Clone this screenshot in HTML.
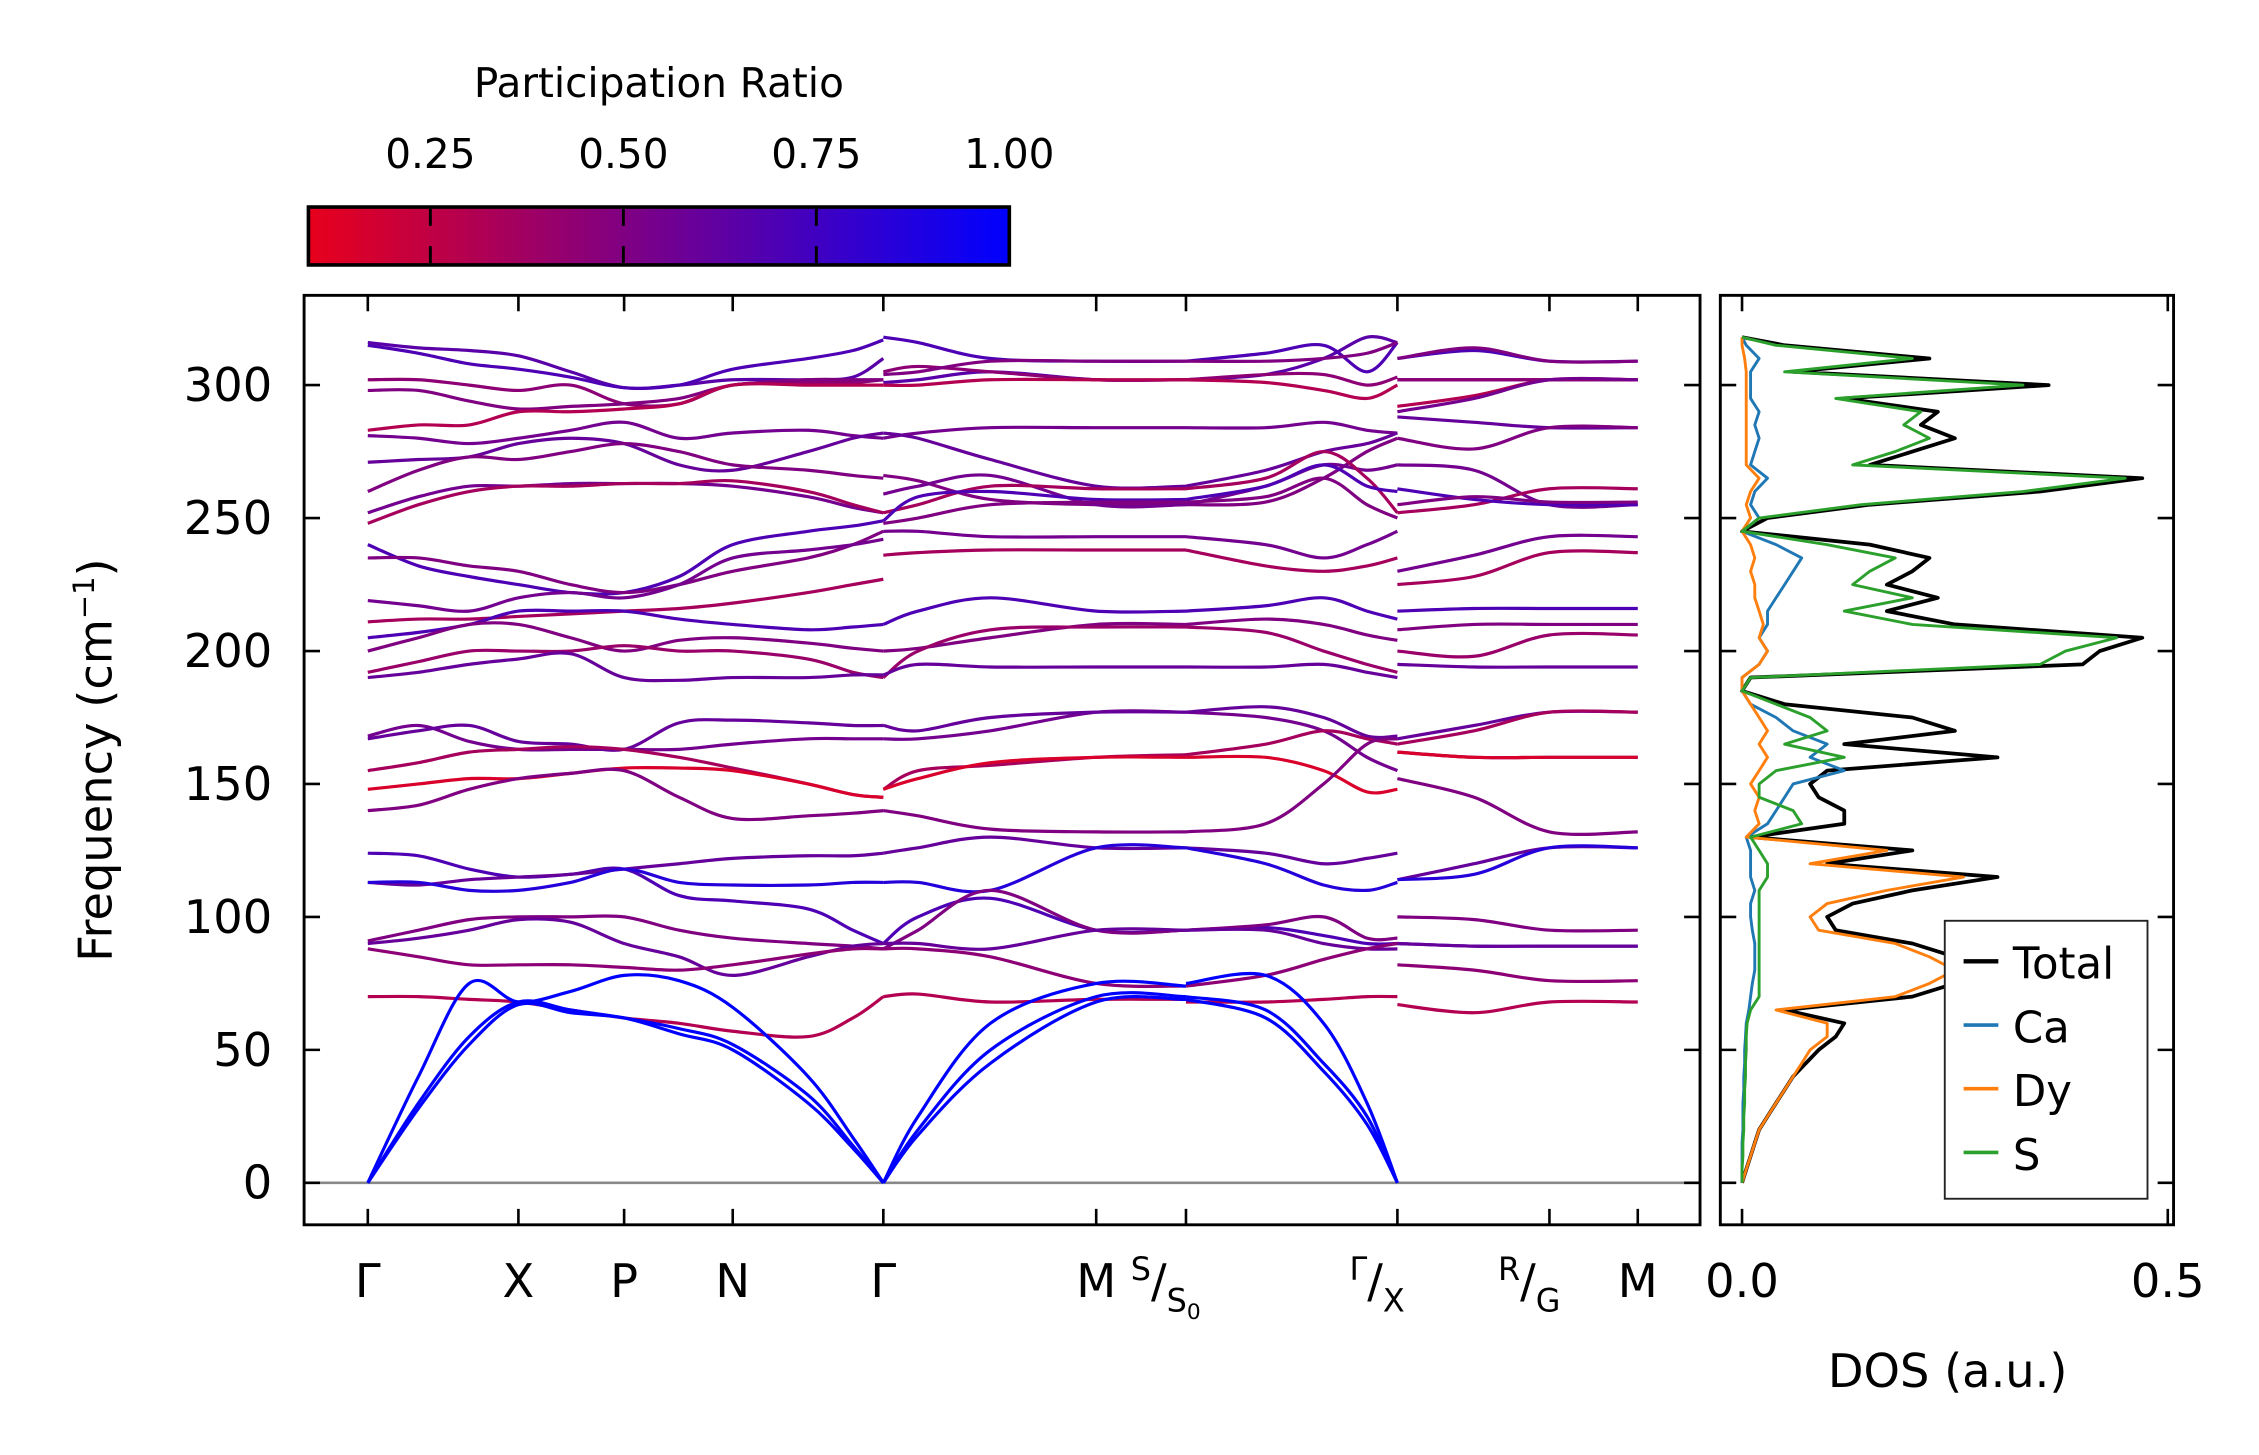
<!DOCTYPE html>
<html><head><meta charset="utf-8"><style>
html,body{margin:0;padding:0;background:#fff;}
svg{display:block;font-family:"DejaVu Sans","Liberation Sans",sans-serif;}
</style></head><body>
<svg id="fig" width="2259" height="1455" viewBox="0 0 1560 1005" preserveAspectRatio="none" xmlns="http://www.w3.org/2000/svg">
<defs>
<linearGradient id="cbgrad" x1="0" x2="1" y1="0" y2="0">
<stop offset="0" stop-color="rgb(232,0,28)"/><stop offset="1" stop-color="rgb(0,0,255)"/>
</linearGradient>
<clipPath id="mainclip"><rect x="210" y="204" width="964" height="642"/></clipPath>
<clipPath id="dosclip"><rect x="1188" y="204" width="313" height="642"/></clipPath>
</defs>
<g>
<text x="455" y="67" font-size="28" text-anchor="middle">Participation Ratio</text>
<rect x="213" y="143" width="484" height="40" fill="url(#cbgrad)" stroke="#000" stroke-width="2.5"/>
<g id="cbticks"></g>
</g>
<g id="main">
<line x1="210" y1="817" x2="1174" y2="817" stroke="#888" stroke-width="1.8"/>
<g id="bands" clip-path="url(#mainclip)"></g>
<g id="mainticks"></g>
<rect x="210" y="204" width="964" height="642" fill="none" stroke="#000" stroke-width="2"/>
<text transform="translate(77,525) rotate(-90)" font-size="32" text-anchor="middle">Frequency (cm<tspan dy="-12" font-size="20">−1</tspan><tspan dy="12">)</tspan></text>
</g>
<g id="dos">
<g id="dosLines" clip-path="url(#dosclip)"></g>
<g id="dosticks"></g>
<rect x="1188" y="204" width="313" height="642" fill="none" stroke="#000" stroke-width="2"/>
<text x="1345" y="958" font-size="32" text-anchor="middle">DOS (a.u.)</text>
<g>
<rect x="1343" y="636" width="140" height="192" fill="#fff" stroke="#222" stroke-width="1.3"/>
<line x1="1356" y1="664" x2="1380" y2="664" stroke="#000" stroke-width="3"/>
<text x="1390" y="676" font-size="30">Total</text>
<line x1="1356" y1="708" x2="1380" y2="708" stroke="#1f77b4" stroke-width="2.5"/>
<text x="1390" y="720" font-size="30">Ca</text>
<line x1="1356" y1="752" x2="1380" y2="752" stroke="#ff7f0e" stroke-width="2.5"/>
<text x="1390" y="764" font-size="30">Dy</text>
<line x1="1356" y1="796" x2="1380" y2="796" stroke="#2ca02c" stroke-width="2.5"/>
<text x="1390" y="808" font-size="30">S</text>
</g>
</g>
</svg>
<script>
// ---- data ----
const kTicks = [0, 1.04, 1.77, 2.52, 3.56, 5.03, 5.65, 7.11, 8.16, 8.77];
const kA = [0, 0.35, 0.7, 1.04, 1.4, 1.77, 2.15, 2.52, 3.04, 3.35, 3.56];
const kB = [3.56, 3.8, 4.3, 5.03, 5.65];
const kC = [5.65, 6.2, 6.6, 6.9, 7.11];
const kD = [7.11, 7.64, 8.16, 8.77];
const yTicks = [0, 50, 100, 150, 200, 250, 300];
const cbTicks = [0.25, 0.5, 0.75, 1.0];
const cbTickLabels = ["0.25", "0.50", "0.75", "1.00"];
const dosTicks = [0.0, 0.5];
const dosTickLabels = ["0.0", "0.5"];

const bandsA = [
[0,40,75,68,72,78,76,66,40,17,0],
[0,30,55,68,65,62,58,52,33,14,0],
[0,28,52,67,64,62,56,50,30,13,0],
[70,70,69,68,65,62,60,57,55,62,70],
[88,85,82,82,82,81,80,82,86,88,88],
[90,92,95,99,98,90,85,78,85,89,90],
[91,95,99,100,100,100,95,92,90,89,88],
[113,113,110,110,113,118,113,112,112,113,113],
[113,112,114,115,116,118,120,122,123,123,124],
[124,123,118,115,116,118,108,106,103,95,90],
[140,142,148,152,154,155,145,137,138,139,140],
[148,150,152,152,154,156,156,155,150,146,145],
[155,158,162,163,164,163,160,156,150,146,145],
[167,170,172,166,165,163,173,174,173,172,172],
[168,172,166,163,163,163,163,165,167,167,167],
[190,192,195,197,199,190,189,190,190,191,191],
[192,196,200,200,200,202,200,200,197,192,190],
[200,205,210,210,205,200,204,205,203,201,200],
[205,207,210,215,215,215,212,210,208,209,210],
[211,212,212,213,214,215,216,218,222,225,227],
[219,217,215,220,222,220,225,235,238,240,242],
[235,235,232,230,225,222,225,230,235,240,245],
[240,232,228,225,222,222,228,240,245,247,249],
[248,255,260,262,262,263,263,264,260,255,252],
[252,258,262,262,263,263,263,262,258,254,252],
[260,268,273,272,275,278,275,270,268,266,265],
[271,272,273,278,280,278,270,268,275,280,282],
[281,280,278,280,283,286,280,282,283,281,280],
[283,285,285,290,290,291,293,300,300,300,300],
[298,298,294,291,292,293,295,300,302,302,302],
[302,302,300,298,300,293,293,300,301,301,302],
[315,312,308,306,303,299,300,306,310,313,317],
[316,314,313,311,305,299,300,302,302,303,310]
];
const bandsB = [
[0,20,50,70,70],[0,18,45,68,69],[0,25,60,75,74],
[70,71,68,69,69],[88,88,85,75,74],[90,90,88,95,95],[88,95,110,95,95],
[113,113,110,126,126],[124,126,130,126,126],[90,100,107,95,95],
[140,138,133,132,132],[148,152,158,160,160],[148,155,157,160,161],
[172,170,175,177,177],[167,167,170,177,177],
[191,195,194,194,194],[190,200,208,209,209],[200,201,205,210,210],[210,215,220,215,215],
[236,237,238,238,238],[245,245,243,243,243],[248,250,255,256,256],[249,258,260,257,257],
[252,255,262,261,261],[259,262,266,255,255],[266,264,257,255,255],[282,280,272,262,262],
[280,282,284,284,284],[300,300,302,302,302],[304,305,309,309,309],[305,307,305,302,302],
[318,316,310,309,309],[301,302,305,302,302]
];
const bandsC = [
[70,65,45,25,0],[69,62,42,22,0],[75,78,60,30,0],
[68,68,69,70,70],[74,78,84,88,90],[95,95,90,88,88],[95,97,100,92,92],
[126,120,112,110,113],[126,124,120,122,124],[95,96,93,90,90],
[132,135,150,165,167],[160,160,155,147,148],[161,165,170,167,165],
[177,179,175,168,168],[177,175,170,160,155],
[194,194,195,192,190],[209,207,200,195,192],[210,212,210,206,204],[215,217,220,215,212],
[238,232,230,232,235],[243,240,235,240,245],[256,258,265,255,250],[257,262,270,262,260],
[261,265,275,265,252],[255,262,270,268,270],[255,256,265,275,280],[262,268,275,278,282],
[284,284,286,283,282],[302,301,298,295,300],[309,309,310,312,316],[302,304,304,300,303],
[309,312,315,305,316],[302,304,310,318,316]
];
const bandsD = [
null,null,null,
[67,64,68,68],[82,80,76,76],[90,89,89,89],[100,99,95,95],
[114,116,126,126],[114,120,126,126],[90,89,89,89],
[152,145,132,132],[162,160,160,160],[165,170,177,177],
[167,172,177,177],[162,160,160,160],
[195,194,194,194],[200,198,206,206],[208,210,210,210],[215,216,216,216],
[225,228,237,237],[230,236,243,243],[255,258,256,256],[261,257,255,255],
[252,255,261,261],[270,268,255,255],[280,276,284,284],[288,286,284,284],
[290,295,302,302],[292,296,302,302],[310,314,309,309],[302,302,302,302],
[310,313,309,309],[302,302,302,302]
];
const bandPR = [1.0,1.0,1.0,0.3,0.45,0.6,0.5,0.85,0.6,0.7,0.5,0.15,0.35,0.6,0.55,
0.6,0.4,0.5,0.7,0.35,0.55,0.5,0.7,0.35,0.55,0.5,0.6,0.55,0.3,0.5,0.45,0.7,0.65];

const dosFreq = [0,5,10,15,20,25,30,35,40,45,50,55,60,65,70,75,80,85,90,95,100,105,110,115,120,125,130,135,140,145,150,155,160,165,170,175,180,185,190,195,200,205,210,215,220,225,230,235,240,245,250,255,260,265,270,275,280,285,290,295,300,305,310,315,318];
const dosTotal = [0,.005,.01,.015,.02,.03,.04,.05,.06,.075,.09,.11,.12,.05,.2,.25,.27,.25,.2,.11,.1,.13,.2,.3,.1,.2,.01,.12,.12,.09,.08,.1,.3,.12,.25,.2,.05,0,.01,.4,.42,.47,.25,.17,.23,.17,.2,.22,.15,0,.03,.15,.35,.47,.15,.2,.25,.21,.23,.12,.36,.06,.22,.05,0];
const dosCa = [0,0,0,0,.001,.001,.001,.002,.002,.003,.003,.004,.005,.008,.01,.012,.015,.015,.015,.012,.01,.01,.015,.01,.01,.01,.005,.03,.04,.05,.06,.12,.08,.1,.06,.04,.01,0,0,.02,.03,.02,.03,.03,.04,.05,.06,.07,.04,0,.02,.01,.015,.03,.01,.015,.02,.015,.02,.01,.01,.01,.02,.005,0];
const dosDy = [0,.005,.01,.015,.02,.03,.04,.05,.06,.07,.08,.1,.1,.04,.18,.22,.25,.22,.18,.09,.08,.1,.17,.26,.08,.17,.005,.02,.015,.02,.01,.02,.03,.02,.03,.02,.01,0,0,.02,.03,.02,.025,.02,.015,.015,.01,.015,.01,0,.01,.005,.01,.02,.005,.005,.005,.005,.005,.005,.005,.005,.003,0,0];
const dosS = [0,0,.001,.001,.002,.002,.003,.003,.004,.004,.005,.005,.006,.01,.02,.02,.02,.02,.02,.02,.02,.02,.02,.03,.03,.02,.01,.07,.06,.02,.02,.04,.12,.05,.1,.08,.04,0,.01,.35,.38,.44,.2,.12,.2,.13,.15,.18,.1,0,.02,.14,.33,.45,.13,.18,.22,.19,.21,.11,.33,.05,.2,.04,0];

// ---- scales ----
const NS = "http://www.w3.org/2000/svg";
function xK(k){ return 210 + (k + 0.44) / 9.64 * 964; }
function yF(f){ return 817 - f * (551 / 300); }
function xDos(v){ return 1203 + v * 588; }
function xCb(v){ return 213 + (v - 0.092) / 0.908 * 484; }
function prColor(p){
  const t = Math.max(0, Math.min(1, (p - 0.092) / 0.908));
  return `rgb(${Math.round(232*(1-t))},0,${Math.round(28 + 227*t)})`;
}
function mk(tag, attrs, parent){
  const e = document.createElementNS(NS, tag);
  for (const a in attrs) e.setAttribute(a, attrs[a]);
  parent.appendChild(e); return e;
}
function smoothPath(ks, vs){
  const p = ks.map((k,i)=>[xK(k), yF(vs[i])]);
  let d = `M${p[0][0].toFixed(1)},${p[0][1].toFixed(1)}`;
  for (let i=0;i<p.length-1;i++){
    const p0 = p[Math.max(0,i-1)], p1 = p[i], p2 = p[i+1], p3 = p[Math.min(p.length-1,i+2)];
    const c1 = [p1[0]+(p2[0]-p0[0])/6, p1[1]+(p2[1]-p0[1])/6];
    const c2 = [p2[0]-(p3[0]-p1[0])/6, p2[1]-(p3[1]-p1[1])/6];
    d += `C${c1[0].toFixed(1)},${c1[1].toFixed(1)} ${c2[0].toFixed(1)},${c2[1].toFixed(1)} ${p2[0].toFixed(1)},${p2[1].toFixed(1)}`;
  }
  return d;
}

// ---- bands ----
const gB = document.getElementById('bands');
const segs = [[kA, bandsA], [kB, bandsB], [kC, bandsC], [kD, bandsD]];
for (let b = bandsA.length - 1; b >= 0; b--){
  segs.forEach(([ks, arr]) => {
    if (!arr[b]) return;
    const el = mk('path', {d: smoothPath(ks, arr[b]), fill:'none', stroke: prColor(bandPR[b]), 'stroke-width': 2.2}, gB);
    
    
  });
}

// ---- main ticks ----
const gT = document.getElementById('mainticks');
kTicks.forEach(k => {
  const x = xK(k);
  mk('line', {x1:x, y1:846, x2:x, y2:835, stroke:'#000','stroke-width':1.8}, gT);
  mk('line', {x1:x, y1:204, x2:x, y2:215, stroke:'#000','stroke-width':1.8}, gT);
});
yTicks.forEach(f => {
  const y = yF(f);
  mk('line', {x1:210, y1:y, x2:221, y2:y, stroke:'#000','stroke-width':1.8}, gT);
  mk('line', {x1:1174, y1:y, x2:1163, y2:y, stroke:'#000','stroke-width':1.8}, gT);
  const t = mk('text', {x:188, y:y+11, 'font-size':32, 'text-anchor':'end'}, gT);
  t.textContent = String(f);
  
  
});
const xl = [
  ['Γ', 0], ['X', 1], ['P', 2], ['N', 3], ['Γ', 4], ['M', 5]
];
xl.forEach(([lab, i]) => {
  const t = mk('text', {x:xK(kTicks[i]), y:896, 'font-size':32, 'text-anchor':'middle'}, gT);
  t.textContent = lab;
  
  
});
const sp = [[6,'S','S','0'],[7,'Γ','X',''],[8,'R','G','']];
sp.forEach(([i, sup, sub, sub2]) => {
  const x = xK(kTicks[i]);
  const t = mk('text', {x:x-14, y:896, 'font-size':32, 'text-anchor':'middle'}, gT);
  
  
  t.innerHTML = `<tspan font-size="22" dy="-12">${sup}</tspan><tspan dy="12">/</tspan><tspan font-size="22" dy="10">${sub}</tspan>` + (sub2 ? `<tspan font-size="15" dy="5">${sub2}</tspan>` : '');
});
const tM = mk('text', {x:xK(kTicks[9]), y:896, 'font-size':32, 'text-anchor':'middle'}, gT);
tM.textContent = 'M';



// ---- colorbar ticks ----
const gC = document.getElementById('cbticks');
cbTicks.forEach((v, i) => {
  const x = xCb(v);
  if (v < 1){
    mk('line', {x1:x, y1:143, x2:x, y2:156, stroke:'#000','stroke-width':2}, gC);
    mk('line', {x1:x, y1:170, x2:x, y2:183, stroke:'#000','stroke-width':2}, gC);
  }
  const t = mk('text', {x:x, y:116, 'font-size':28, 'text-anchor':'middle'}, gC);
  t.textContent = cbTickLabels[i];
  
  
});

// ---- DOS ----
const gD = document.getElementById('dosLines');
const series = [[dosTotal,'#000',2.6,'dos-total'],[dosCa,'#1f77b4',2,'dos-ca'],[dosDy,'#ff7f0e',2,'dos-dy'],[dosS,'#2ca02c',2,'dos-s']];
series.forEach(([vals, col, w, nm]) => {
  const pts = vals.map((v,i)=>`${xDos(v).toFixed(1)},${yF(dosFreq[i]).toFixed(1)}`).join(' ');
  const el = mk('polyline', {points: pts, fill:'none', stroke: col, 'stroke-width': w, 'stroke-linejoin':'round'}, gD);
  
  
});
const gDT = document.getElementById('dosticks');
yTicks.forEach(f => {
  const y = yF(f);
  mk('line', {x1:1188, y1:y, x2:1199, y2:y, stroke:'#000','stroke-width':1.8}, gDT);
  mk('line', {x1:1501, y1:y, x2:1490, y2:y, stroke:'#000','stroke-width':1.8}, gDT);
});
dosTicks.forEach((v, i) => {
  const x = xDos(v);
  mk('line', {x1:x, y1:846, x2:x, y2:835, stroke:'#000','stroke-width':1.8}, gDT);
  mk('line', {x1:x, y1:204, x2:x, y2:215, stroke:'#000','stroke-width':1.8}, gDT);
  const t = mk('text', {x:x, y:896, 'font-size':32, 'text-anchor':'middle'}, gDT);
  t.textContent = dosTickLabels[i];
  
  
});
</script>
</body></html>
